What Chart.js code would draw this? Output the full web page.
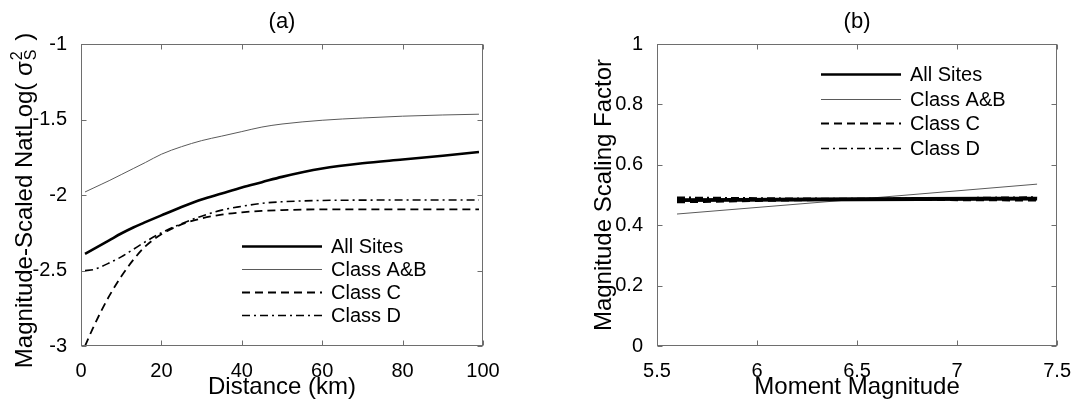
<!DOCTYPE html>
<html>
<head>
<meta charset="utf-8">
<script src="https://cdn.jsdelivr.net/npm/chart.js@4.4.1/dist/chart.umd.min.js"></script>
<style>
  html, body { margin: 0; padding: 0; background: #fff; }
  body { width: 1076px; height: 404px; position: relative; overflow: hidden; }
  .panel { position: absolute; top: 0; }
  #panelA { left: 0; }
  #panelB { left: 560px; }
</style>
</head>
<body>
<div class="panel" id="panelA"><canvas id="chartA" width="540" height="404"></canvas></div>
<div class="panel" id="panelB"><canvas id="chartB" width="516" height="404"></canvas></div>
<script>
// panel (a) - distance dependence
const distanceKm = [1, 3, 5, 7, 10, 13, 16, 20, 25, 30, 35, 40, 45, 50, 60, 70, 80, 90, 99];
const allSitesA  = [-2.39, -2.36, -2.33, -2.30, -2.255, -2.215, -2.18, -2.135, -2.08, -2.03, -1.99, -1.95, -1.915, -1.88, -1.825, -1.79, -1.765, -1.74, -1.715];
const classABA   = [-1.98, -1.955, -1.93, -1.905, -1.865, -1.825, -1.785, -1.73, -1.68, -1.64, -1.61, -1.58, -1.55, -1.53, -1.505, -1.49, -1.478, -1.47, -1.465];
const classCA    = [-3.0, -2.88, -2.77, -2.67, -2.54, -2.43, -2.34, -2.26, -2.195, -2.155, -2.13, -2.115, -2.105, -2.1, -2.095, -2.095, -2.095, -2.095, -2.095];
const classDA    = [-2.50, -2.495, -2.475, -2.45, -2.41, -2.36, -2.31, -2.25, -2.19, -2.14, -2.10, -2.075, -2.055, -2.045, -2.036, -2.034, -2.033, -2.033, -2.033];

// panel (b) - magnitude scaling
const magnitude  = [5.6, 6.5, 7.4];
const allSitesB  = [0.483, 0.486, 0.488];
const classABB   = [0.437, 0.486, 0.536];
const classCB    = [0.477, 0.485, 0.483];
const classDB    = [0.491, 0.487, 0.492];

const seriesNames = ['All Sites', 'Class A&B', 'Class C', 'Class D'];

const fontFamily = "'Liberation Sans', Arial, Helvetica, sans-serif";

function pts(xs, ys) {
    return xs.map((x, i) => ({ x: x, y: ys[i] }));
}

function makeDatasets(xs, lists, thick) {
    const styles = [
        { borderColor: '#000', borderWidth: 2.6 * thick, borderDash: [] },
        { borderColor: '#5a5a5a', borderWidth: 1, borderDash: [] },
        { borderColor: '#000', borderWidth: 1.8 * thick, borderDash: [8, 5] },
        { borderColor: '#000', borderWidth: 1.6 * thick, borderDash: [8, 4, 2, 4] }
    ];
    return lists.map((ys, i) => Object.assign({
        label: seriesNames[i],
        data: pts(xs, ys),
        pointRadius: 0,
        fill: false,
        cubicInterpolationMode: 'monotone'
    }, styles[i]));
}

// box round the plot with inward ticks on all four sides
const boxTicks = {
    id: 'boxTicks',
    afterDraw(chart) {
        const ctx = chart.ctx;
        const a = chart.chartArea;
        const xs = chart.scales.x, ys = chart.scales.y;
        const L = Math.round(a.left) + 0.5, R = Math.round(a.right) - 0.5;
        const T = Math.round(a.top) + 0.5, B = Math.round(a.bottom) - 0.5;
        const len = 5;
        ctx.save();
        ctx.strokeStyle = '#6e6e6e';
        ctx.lineWidth = 1;
        ctx.setLineDash([]);
        ctx.strokeRect(L, T, R - L, B - T);
        ctx.beginPath();
        xs.ticks.forEach(t => {
            const px = Math.round(xs.getPixelForValue(t.value)) + 0.5;
            ctx.moveTo(px, B); ctx.lineTo(px, B - len);
            ctx.moveTo(px, T); ctx.lineTo(px, T + len);
        });
        ys.ticks.forEach(t => {
            const py = Math.round(ys.getPixelForValue(t.value)) + 0.5;
            ctx.moveTo(L, py); ctx.lineTo(L + len, py);
            ctx.moveTo(R, py); ctx.lineTo(R - len, py);
        });
        ctx.stroke();
        ctx.restore();
    }
};

// MATLAB style legend drawn inside the axes
const insideLegend = {
    id: 'insideLegend',
    afterDraw(chart, args, opts) {
        const ctx = chart.ctx;
        const a = chart.chartArea;
        const x0 = a.left + opts.left;
        const legendWidths = [2.6, 1, 1.8, 1.6];
        ctx.save();
        ctx.font = '20px ' + fontFamily;
        ctx.textAlign = 'left';
        ctx.textBaseline = 'middle';
        chart.data.datasets.forEach((ds, i) => {
            const y = Math.round(a.top + opts.top + i * opts.gap) + 0.5;
            ctx.strokeStyle = ds.borderColor;
            ctx.lineWidth = legendWidths[i];
            ctx.setLineDash(ds.borderDash || []);
            ctx.beginPath();
            ctx.moveTo(x0, y);
            ctx.lineTo(x0 + 80, y);
            ctx.stroke();
            ctx.fillStyle = '#000';
            ctx.fillText(ds.label, x0 + 89, y + 1);
        });
        ctx.restore();
    }
};

// y title of panel (a) with the stacked sigma exponent / subscript
const sigmaTitle = {
    id: 'sigmaTitle',
    afterDraw(chart, args, opts) {
        if (!opts.show) return;
        const ctx = chart.ctx;
        const a = chart.chartArea;
        const main = '24px ' + fontFamily;
        const small = '16px ' + fontFamily;
        const head = 'Magnitude-Scaled NatLog( \u03c3';
        const tail = ' )';
        ctx.save();
        ctx.font = main;
        const wHead = ctx.measureText(head).width;
        const wTail = ctx.measureText(tail).width;
        ctx.font = small;
        const wStack = Math.max(ctx.measureText('2').width, ctx.measureText('S').width) + 2;
        const total = wHead + wStack + wTail;
        ctx.translate(opts.x, (a.top + a.bottom) / 2 + 6);
        ctx.rotate(-Math.PI / 2);
        ctx.fillStyle = '#000';
        ctx.textAlign = 'left';
        ctx.textBaseline = 'alphabetic';
        let x = -total / 2;
        const base = 8;
        ctx.font = main;
        ctx.fillText(head, x, base);
        x += wHead + 1;
        ctx.font = small;
        ctx.fillText('2', x, base - 10);
        ctx.fillText('S', x, base + 4);
        x += wStack;
        ctx.font = main;
        ctx.fillText(tail, x, base);
        ctx.restore();
    }
};

function plainNumber(v) {
    return String(Number(v.toFixed(2)));
}

function axisTicks(extra) {
    return Object.assign({
        color: '#000', padding: 6,
        font: { family: fontFamily, size: 20 },
        callback: plainNumber
    }, extra);
}

function baseOptions(cfg) {
    return {
        responsive: false,
        animation: false,
        devicePixelRatio: 1,
        layout: { padding: { left: 0, right: cfg.padRight, top: 0, bottom: 0 } },
        plugins: {
            legend: { display: false },
            tooltip: { enabled: false },
            title: {
                display: true,
                text: cfg.title,
                fullSize: false,
                color: '#000',
                font: { family: fontFamily, size: 22, weight: 'normal', lineHeight: 1 },
                padding: { top: 11, bottom: 11 }
            },
            insideLegend: cfg.legend,
            sigmaTitle: { show: cfg.sigma, x: 24 }
        },
        scales: {
            x: {
                type: 'linear',
                min: cfg.xMin, max: cfg.xMax,
                ticks: axisTicks({ stepSize: cfg.xStep, padding: 5 }),
                grid: { display: false },
                border: { display: false },
                title: {
                    display: true, text: cfg.xTitle, color: '#000',
                    font: { family: fontFamily, size: 24 },
                    padding: { top: 0, bottom: 2 }
                },
                afterFit(s) { s.height = 58; }
            },
            y: {
                type: 'linear',
                min: cfg.yMin, max: cfg.yMax,
                ticks: axisTicks({ stepSize: cfg.yStep }),
                grid: { display: false },
                border: { display: false },
                title: {
                    display: !cfg.sigma, text: cfg.yTitle || '', color: '#000',
                    font: { family: fontFamily, size: 24 },
                    padding: { top: cfg.yTitlePad || 0, bottom: 0 }
                },
                afterFit(s) { s.width = cfg.yWidth; }
            }
        }
    };
}

new Chart(document.getElementById('chartA'), {
    type: 'line',
    data: { datasets: makeDatasets(distanceKm, [allSitesA, classABA, classCA, classDA], 1) },
    options: baseOptions({
        title: '(a)', padRight: 57, yWidth: 81, sigma: true,
        xMin: 0, xMax: 100, xStep: 20, xTitle: 'Distance (km)',
        yMin: -3, yMax: -1, yStep: 0.5,
        legend: { left: 161, top: 202, gap: 23 }
    }),
    plugins: [boxTicks, insideLegend, sigmaTitle]
});

new Chart(document.getElementById('chartB'), {
    type: 'line',
    data: { datasets: makeDatasets(magnitude, [allSitesB, classABB, classCB, classDB], 1.5) },
    options: baseOptions({
        title: '(b)', padRight: 16, yWidth: 97, sigma: false,
        xMin: 5.5, xMax: 7.5, xStep: 0.5, xTitle: 'Moment Magnitude',
        yMin: 0, yMax: 1, yStep: 0.2, yTitle: 'Magnitude Scaling Factor', yTitlePad: 30,
        legend: { left: 164, top: 30, gap: 24.5 }
    }),
    plugins: [boxTicks, insideLegend, sigmaTitle]
});
</script>
</body>
</html>
